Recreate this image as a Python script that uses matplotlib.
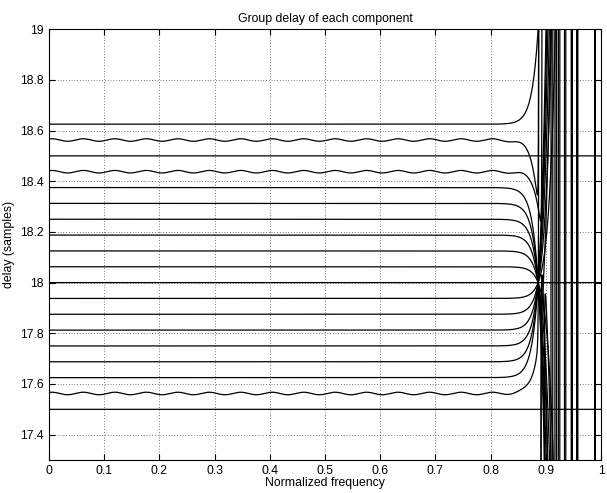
import numpy as np
import matplotlib
matplotlib.use('Agg')
import matplotlib.pyplot as plt

# delay level of each component (samples)
levels = [17.5, 17.5625, 17.625, 17.6875, 17.75, 17.8125, 17.875, 17.9375,
          18.0, 18.0625, 18.125, 18.1875, 18.25, 18.3125, 18.375, 18.4375,
          18.5, 18.5625, 18.625]
# passband ripple amplitude of each component
ripple = [0, 0.005, 0, 0, 0, 0, 0, 0,
          0, 0, 0, 0, 0, 0, 0, 0.005,
          0, 0.005, 0]
# where each component leaves its level near the band edge (None = stays flat)
bend_to = [None, 17.75, 18, 18, 18, 18, 18, 18,
           None, 18, 18, 18, 18, 18, 18, 18.3,
           None, 18.3, 19.0]
# stopband spikes of each component
poles = [[], [0.889], [0.911], [0.918], [0.924], [0.935], [0.947], [0.957],
         [], [0.957], [0.947], [0.935], [0.924], [0.918], [0.911], [0.895],
         [], [0.889], [0.989]]

xticks = np.arange(0, 1.01, 0.1)
yticks = [17.4, 17.6, 17.8, 18, 18.2, 18.4, 18.6, 18.8, 19]

plt.rcParams['font.family'] = ['Liberation Sans', 'DejaVu Sans']
fig = plt.figure(figsize=(6.07, 4.93), dpi=100)
ax = fig.add_axes([0.0807, 0.0669, 0.9095, 0.874])

w = np.linspace(0, 1, 40001)
xc, width, g = 0.886, 0.011, 0.002
for d, a, b, pl in zip(levels, ripple, bend_to, poles):
    y = d + a * np.sin(2 * np.pi * w / 0.057 + 1.0)
    if b is not None:
        y = y + (b - d) * np.exp((w - xc) / width)
    for p in pl:
        with np.errstate(divide='ignore'):
            y = y + (g / (p - w)) ** 5
    ax.plot(w, y, color='k', lw=0.9)

ax.set_xlim(0, 1)
ax.set_ylim(17.3, 19)
ax.set_xticks(xticks)
ax.set_xticklabels(['0', '0.1', '0.2', '0.3', '0.4', '0.5', '0.6', '0.7', '0.8', '0.9', '1'])
ax.set_yticks(yticks)
ax.set_yticklabels(['17.4', '17.6', '17.8', '18', '18.2', '18.4', '18.6', '18.8', '19'])
ax.tick_params(direction='in', top=True, right=True, labelsize=8.8, length=4)
ax.grid(True, linestyle=(0, (1, 3)), color='k', lw=0.5)
for s in ax.spines.values():
    s.set_linewidth(0.8)
ax.set_title('Group delay of each component', fontsize=8.8, pad=5)
ax.set_xlabel('Normalized frequency', fontsize=8.8, labelpad=0)
ax.set_ylabel('delay (samples)', fontsize=8.8, labelpad=4)

fig.savefig('out.png', dpi=100)
